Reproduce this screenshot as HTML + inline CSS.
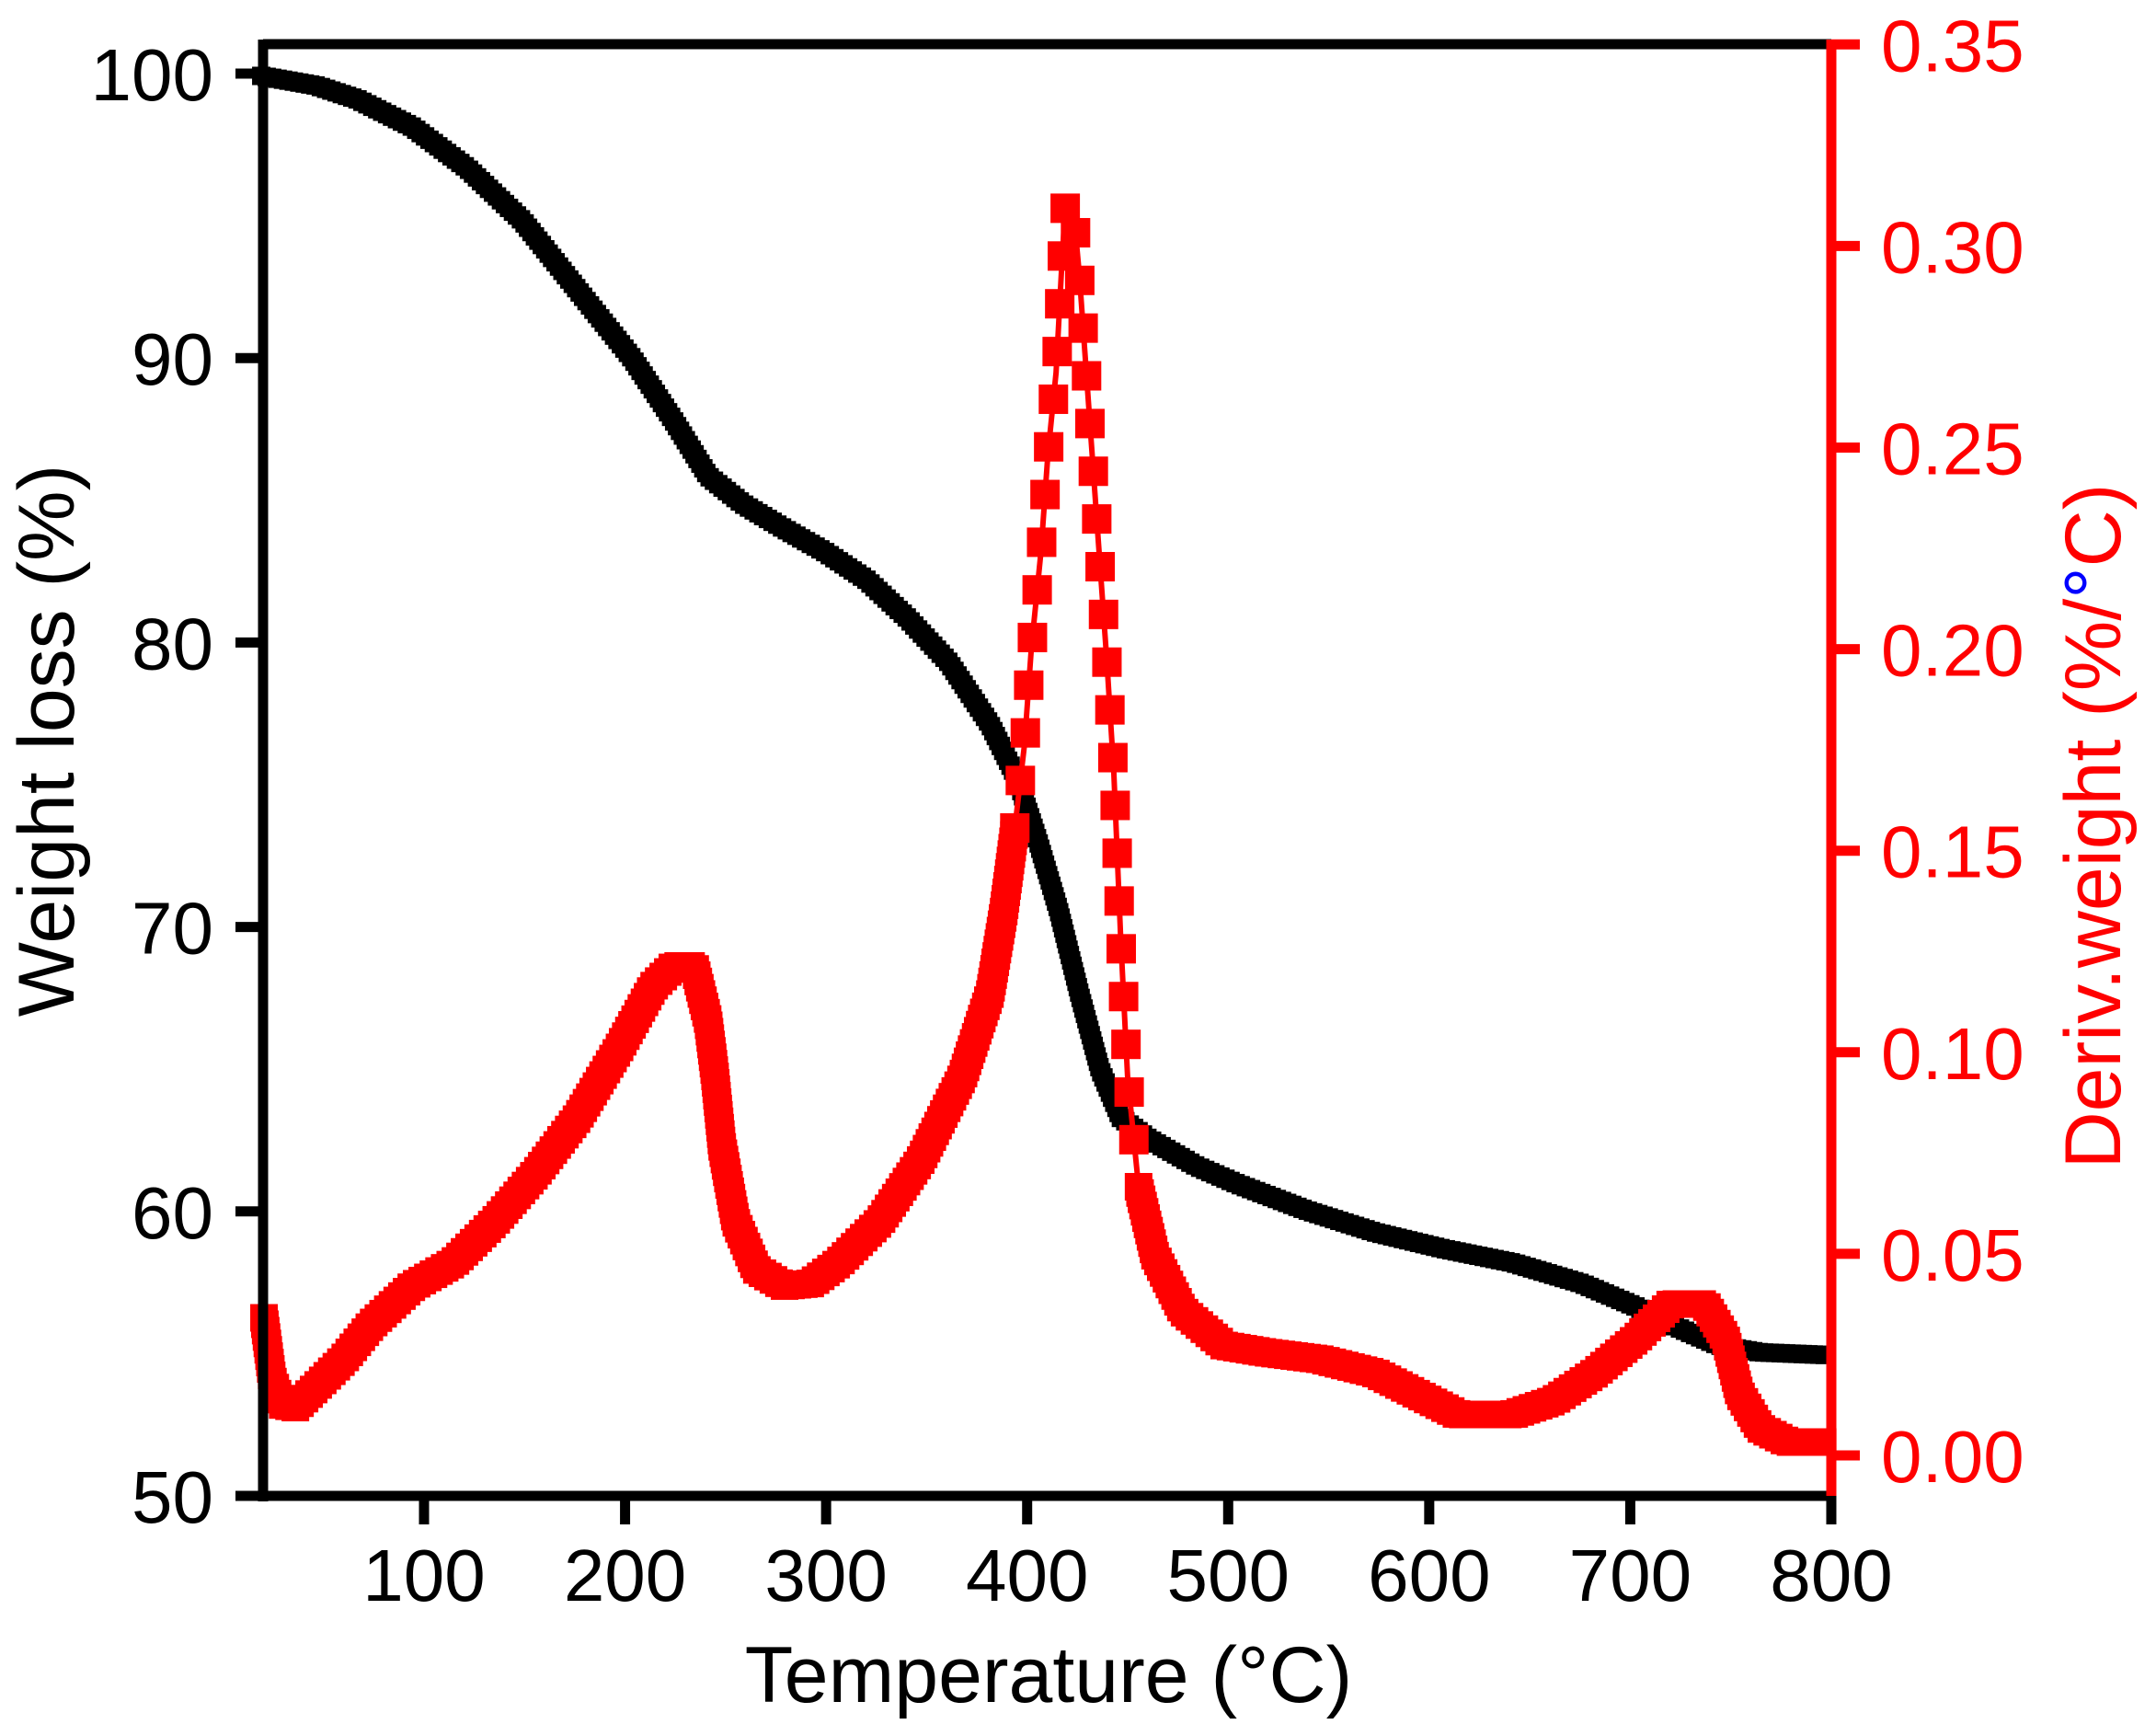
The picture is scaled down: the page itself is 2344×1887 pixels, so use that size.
<!DOCTYPE html>
<html><head><meta charset="utf-8"><style>
html,body{margin:0;padding:0;background:#fff;}
svg{display:block;}
text{font-family:"Liberation Sans",Arial,sans-serif;}
</style></head><body>
<svg id="s" width="2344" height="1887" viewBox="0 0 2344 1887" xmlns="http://www.w3.org/2000/svg">
<g id="data"></g>
<g stroke="#000" stroke-width="11" fill="none">
<line x1="286" y1="48" x2="1991" y2="48"/>
<line x1="286" y1="43" x2="286" y2="1632"/>
<line x1="281" y1="1626" x2="1991" y2="1626"/>
</g>
<line x1="1991" y1="43" x2="1991" y2="1626" stroke="#f00" stroke-width="11"/>
<g id="ticks"></g>
<g font-size="80" fill="#000" text-anchor="end" id="ly"></g>
<g font-size="80" fill="#000" text-anchor="middle" id="lx"></g>
<g font-size="80" fill="#f00" text-anchor="start" id="ry"></g>
<text x="1140" y="1850" font-size="86" text-anchor="middle">Temperature (°C)</text>
<text transform="translate(80,805) rotate(-90)" font-size="86" text-anchor="middle">Weight loss (%)</text>
<text transform="translate(2305,898) rotate(-90)" font-size="86" text-anchor="middle" fill="#f00">Deriv.weight (%/<tspan fill="#00f">°</tspan>C)</text>
</svg>
<script>
var NS="http://www.w3.org/2000/svg";
function el(p,t,a){var e=document.createElementNS(NS,t);for(var k in a)e.setAttribute(k,a[k]);p.appendChild(e);return e;}
var tk=document.getElementById('ticks');
function X(T){return 461+(T-100)*2.1857;}
for(var v=50;v<=100;v+=10){var y=80+(100-v)*30.92;el(tk,'line',{x1:256,y1:y,x2:286,y2:y,stroke:'#000','stroke-width':11});
 var t=el(document.getElementById('ly'),'text',{x:232,y:y+29});t.textContent=v;}
for(var T=100;T<=800;T+=100){var x=X(T);el(tk,'line',{x1:x,y1:1626,x2:x,y2:1657,stroke:'#000','stroke-width':11});
 var t=el(document.getElementById('lx'),'text',{x:x,y:1740});t.textContent=T;}
for(var i=0;i<=7;i++){var y=1582-i*219.1;el(tk,'line',{x1:1991,y1:y,x2:2022,y2:y,stroke:'#f00','stroke-width':11});
 var t=el(document.getElementById('ry'),'text',{x:2045,y:y+29});t.textContent=(i*0.05).toFixed(2);}
var sx=1.495,sy=1.5;
var blk=[[190,55],[230,62],[260,72],[300,92],[340,122],[380,160],[420,210],[460,260],[490,305],[515,345],[540,365],[570,383],[600,400],[630,420],[660,448],[690,480],[720,525],[740,565],[755,610],[770,660],[785,720],[800,775],[815,810],[835,825],[870,845],[900,858],[950,877],[1000,893],[1050,905],[1100,915],[1150,930],[1190,947],[1220,962],[1250,975],[1280,980],[1330,982]];
var red=[[192,955],[198,1000],[205,1018],[215,1020],[230,1005],[250,985],[270,960],[300,932],[330,915],[360,885],[390,850],[420,810],[450,760],[475,715],[490,700],[505,700],[515,740],[520,780],[525,830],[535,885],[550,920],[570,932],[590,930],[610,915],[640,885],[670,840],[700,780],[720,720],[730,660],[738,600],[745,540],[750,470],[757,400],[762,330],[768,270],[772,195],[775,145],[780,145],[785,200],[790,270],[795,340],[800,410],[805,480],[810,560],[815,680],[820,780],[828,860],[840,910],[860,950],[890,975],[920,980],[960,985],[1000,995],[1040,1015],[1060,1025],[1100,1025],[1130,1015],[1160,995],[1190,970],[1215,945],[1240,945],[1255,970],[1265,1010],[1280,1035],[1300,1045],[1330,1045]];
var g=document.getElementById('data');
function draw(pts,col,lw,sz,step){
 var d=pts.map(function(p){return (p[0]*sx)+','+(p[1]*sy)}).join(' ');
 el(g,'polyline',{points:d,fill:'none',stroke:col,'stroke-width':lw});
 var acc=0;
 for(var i=1;i<pts.length;i++){
  var x0=pts[i-1][0]*sx,y0=pts[i-1][1]*sy,x1=pts[i][0]*sx,y1=pts[i][1]*sy;
  var L=Math.hypot(x1-x0,y1-y0);
  while(acc<=L){var f=acc/L;var x=x0+(x1-x0)*f,y=y0+(y1-y0)*f;
   el(g,'rect',{x:x-sz/2,y:y-sz/2,width:sz,height:sz,fill:col});acc+=step;}
  acc-=L;
 }
}
draw(blk,'#000',6,20,6);
(function(){
 var pre=red.filter(function(p){return p[0]<=738});
 var pk=red.filter(function(p){return p[0]>=738&&p[0]<=828});
 var post=red.filter(function(p){return p[0]>=828});
 draw(pre,'#f00',5,30,7);
 draw(pk,'#f00',6,32,52);
 draw(post,'#f00',5,30,7);
})();
</script>
</body></html>
